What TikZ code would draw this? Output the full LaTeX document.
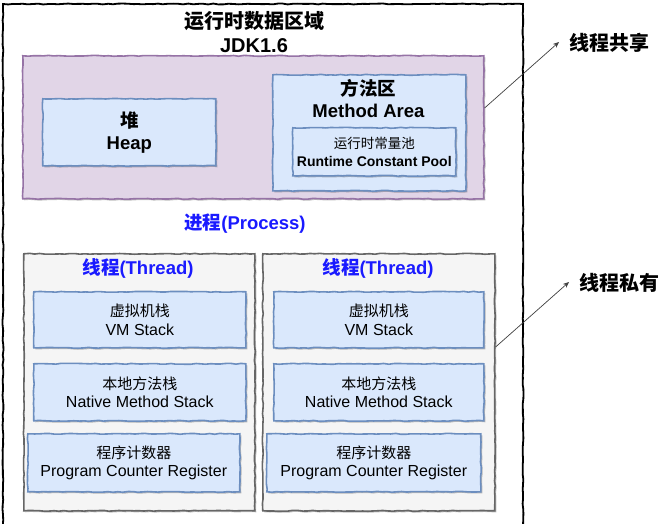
\documentclass[tikz,border=0pt]{standalone}
\usepackage{fontspec}
\setmainfont{Liberation Sans}
\newfontfamily\cjk{Noto Sans CJK SC}
\usetikzlibrary{decorations.pathmorphing,shadows,arrows.meta}
\definecolor{purpfill}{HTML}{E1D5E7}
\definecolor{purpline}{HTML}{9673A6}
\definecolor{bluefill}{HTML}{DAE8FC}
\definecolor{blueline}{HTML}{6C8EBF}
\definecolor{greyfill}{HTML}{F5F5F5}
\definecolor{greyline}{HTML}{666666}
\definecolor{titleblue}{HTML}{1A1AFF}
\tikzset{
  sketch/.style={decorate, decoration={random steps, segment length=5pt, amplitude=0.45pt}},
  shad/.style={drop shadow={shadow xshift=1.5pt, shadow yshift=-1.5pt, opacity=0.25, fill=black}},
  boxat/.style 2 args={rectangle, inner sep=0pt, anchor=north west, minimum width=#1, minimum height=#2},
  regionbox/.style={draw=purpline, fill=purpfill, line width=1.6pt, sketch, shad},
  bluebox/.style={draw=blueline, fill=bluefill, line width=1.6pt, sketch, shad, align=center},
  threadbox/.style={draw=greyline, fill=greyfill, line width=1.6pt, sketch, shad},
  titletxt/.style={font=\bfseries\fontsize{20}{24}\selectfont, align=center},
  bigtxt/.style={font=\bfseries\fontsize{18.5}{21.5}\selectfont, align=center},
  bluetxt/.style={font=\bfseries\fontsize{18.5}{21}\selectfont, text=titleblue},
  smalltxt/.style={font=\fontsize{16}{18.5}\selectfont},
  pooltxt/.style={font=\fontsize{14}{18}\selectfont},
  sidetxt/.style={font=\cjk\bfseries\fontsize{20}{22}\selectfont, anchor=west},
  pointer/.style={draw=black!75, line width=0.7pt, -{Stealth[length=6pt,width=5pt]}},
}
\begin{document}
\begin{tikzpicture}[x=1pt,y=-1pt]
\pgfmathsetseed{7}
\useasboundingbox (0,0) rectangle (667,523);
\fill[white] (0,0) rectangle (667,523);
% outer runtime data area (open at bottom, runs off the picture)
\begin{scope}
\clip (0,0) rectangle (667,523);
\draw[black, line width=1.8pt, sketch] (3,530) -- (3,4) -- (523,4) -- (523,530);
\end{scope}
\node[titletxt] (title) at (254,32) {{\cjk\bfseries 运行时数据区域}\\JDK1.6};

% shared region
\node[regionbox, boxat={461pt}{143pt}] (shared) at (22,55) {};
\node[bluebox, boxat={173pt}{67pt}, bigtxt] (heap) at (42,98) {{\cjk\bfseries 堆}\\Heap};
\node[bluebox, boxat={193pt}{116pt}] (method) at (272,74) {};
\node[bigtxt, anchor=north] (methodtxt) at (368.5,76) {{\cjk\bfseries 方法区}\\Method Area};
\node[bluebox, boxat={163pt}{48pt}, pooltxt] (pool) at (292,127) {{\cjk\fontsize{13.5}{18}\selectfont 运行时常量池}\\\bfseries Runtime Constant Pool};

% process
\node[bluetxt] (process) at (245,224) {{\cjk\bfseries 进程}(Process)};

% threads
\node[threadbox, boxat={231pt}{257pt}] (t1) at (23,253) {};
\node[threadbox, boxat={232pt}{257pt}] (t2) at (262,253) {};
\node[bluetxt] (t1lab) at (138,268) {{\cjk\bfseries 线程}(Thread)};
\node[bluetxt] (t2lab) at (378,268) {{\cjk\bfseries 线程}(Thread)};

\node[bluebox, boxat={212pt}{56pt}, smalltxt] (vm1) at (33,291) {{\cjk\fontsize{15}{18.5}\selectfont 虚拟机栈}\\VM Stack};
\node[bluebox, boxat={212pt}{57pt}, smalltxt] (nm1) at (33,363) {{\cjk\fontsize{15}{18.5}\selectfont 本地方法栈}\\Native Method Stack};
\node[bluebox, boxat={212pt}{58pt}, smalltxt] (pc1) at (27,433) {{\cjk\fontsize{15}{18.5}\selectfont 程序计数器}\\Program Counter Register};

\node[bluebox, boxat={210pt}{56pt}, smalltxt] (vm2) at (273,291) {{\cjk\fontsize{15}{18.5}\selectfont 虚拟机栈}\\VM Stack};
\node[bluebox, boxat={210pt}{57pt}, smalltxt] (nm2) at (273,363) {{\cjk\fontsize{15}{18.5}\selectfont 本地方法栈}\\Native Method Stack};
\node[bluebox, boxat={214pt}{58pt}, smalltxt] (pc2) at (266,433) {{\cjk\fontsize{15}{18.5}\selectfont 程序计数器}\\Program Counter Register};

% side labels
\coordinate (tip1) at (559,42);
\coordinate (tip2) at (569,282);
\node[sidetxt] (sharedlab) at (566,43) {线程共享};
\node[sidetxt] (privatelab) at (576,283) {线程私有};
\draw[pointer] (shared.east |- 0,108) -- (tip1);
\draw[pointer] (t2.east |- 0,347) -- (tip2);
\end{tikzpicture}
\end{document}
